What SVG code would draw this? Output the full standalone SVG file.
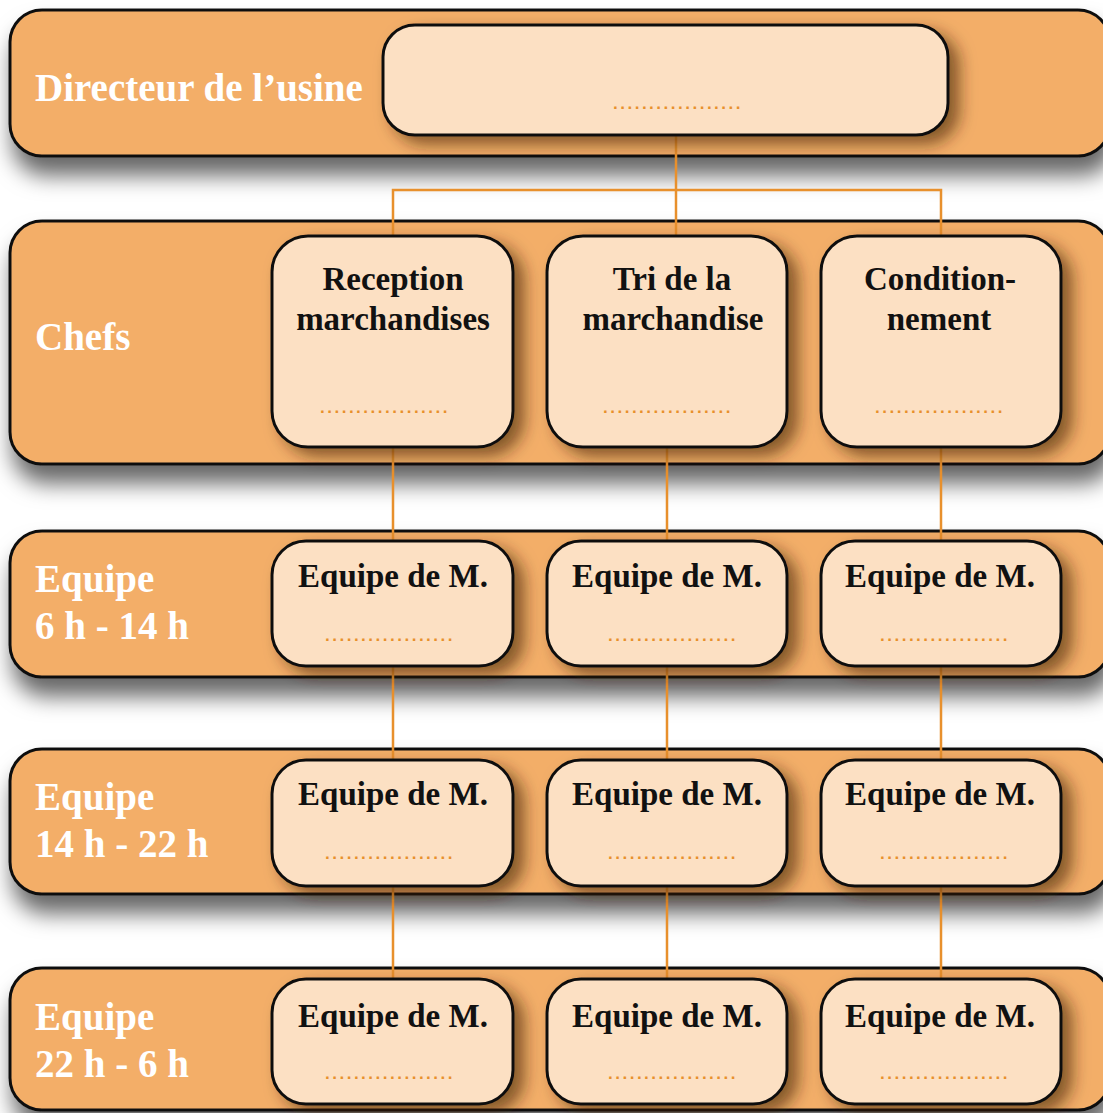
<svg xmlns="http://www.w3.org/2000/svg" width="1103" height="1113" viewBox="0 0 1103 1113">
<defs>
<filter id="bandShadow" x="-10%" y="-20%" width="130%" height="170%">
<feDropShadow dx="4" dy="18" stdDeviation="11" flood-color="#000" flood-opacity="0.6"/>
</filter>
<filter id="boxShadow" x="-10%" y="-15%" width="130%" height="140%">
<feDropShadow dx="10" dy="8" stdDeviation="8" flood-color="#3a2000" flood-opacity="0.6"/>
</filter>
</defs>
<style>
.band{fill:#F3AE68;stroke:#111;stroke-width:3}
.box{fill:#FCE0C3;stroke:#111;stroke-width:3}
.lbl{font-family:"Liberation Serif","Times New Roman",serif;font-weight:bold;font-size:39px;fill:#FFFFFF}
.txt{font-family:"Liberation Serif","Times New Roman",serif;font-weight:bold;font-size:33px;fill:#111;text-anchor:middle}
.dots{font-family:"Liberation Sans",Arial,sans-serif;font-weight:bold;font-size:17px;fill:#E8902C;text-anchor:middle;letter-spacing:2.5px}
.con{stroke:#E8902C;stroke-width:2.5;fill:none}
</style>
<rect width="1103" height="1113" fill="#FFFFFF"/>

<g id="bands">
<rect class="band" x="10" y="10" width="1100" height="146" rx="32" filter="url(#bandShadow)"/>
<rect class="band" x="10" y="221" width="1100" height="243" rx="32" filter="url(#bandShadow)"/>
<rect class="band" x="10" y="531" width="1100" height="146" rx="32" filter="url(#bandShadow)"/>
<rect class="band" x="10" y="749" width="1100" height="145" rx="32" filter="url(#bandShadow)"/>
<rect class="band" x="10" y="968" width="1100" height="142" rx="32" filter="url(#bandShadow)"/>
</g>

<g id="connectors">
<path class="con" d="M676 135 V236"/>
<path class="con" d="M393 236 V190 H941 V236"/>
<path class="con" d="M393 447 V541 M667 447 V541 M941 447 V541"/>
<path class="con" d="M393 666 V760 M667 666 V760 M941 666 V760"/>
<path class="con" d="M393 886 V979 M667 886 V979 M941 886 V979"/>
</g>

<g id="row-labels">
<text class="lbl" x="35" y="101">Directeur de l’usine</text>
<text class="lbl" x="35" y="350">Chefs</text>
<text class="lbl" x="35" y="592">Equipe</text>
<text class="lbl" x="35" y="639">6 h - 14 h</text>
<text class="lbl" x="35" y="810">Equipe</text>
<text class="lbl" x="35" y="857">14 h - 22 h</text>
<text class="lbl" x="35" y="1030">Equipe</text>
<text class="lbl" x="35" y="1077">22 h - 6 h</text>
</g>

<g id="director">
<rect class="box" x="383" y="25" width="565" height="110" rx="32" filter="url(#boxShadow)"/>
<text class="dots" x="678" y="109">..................</text>
</g>

<g id="chef-reception">
<rect class="box" x="272" y="236" width="241" height="211" rx="36" filter="url(#boxShadow)"/>
<text class="txt" x="393" y="290">Reception</text>
<text class="txt" x="393" y="330">marchandises</text>
<text class="dots" x="385" y="413">..................</text>
</g>
<g id="chef-tri">
<rect class="box" x="547" y="236" width="240" height="211" rx="36" filter="url(#boxShadow)"/>
<text class="txt" x="672" y="290">Tri de la</text>
<text class="txt" x="673" y="330">marchandise</text>
<text class="dots" x="668" y="413">..................</text>
</g>
<g id="chef-conditionnement">
<rect class="box" x="821" y="236" width="240" height="211" rx="36" filter="url(#boxShadow)"/>
<text class="txt" x="940" y="290">Condition-</text>
<text class="txt" x="939" y="330">nement</text>
<text class="dots" x="940" y="413">..................</text>
</g>

<g id="team1-reception">
<rect class="box" x="272" y="541" width="241" height="125" rx="34" filter="url(#boxShadow)"/>
<text class="txt" x="393" y="587">Equipe de M.</text>
<text class="dots" x="390" y="641">..................</text>
</g>
<g id="team1-tri">
<rect class="box" x="547" y="541" width="240" height="125" rx="34" filter="url(#boxShadow)"/>
<text class="txt" x="667" y="587">Equipe de M.</text>
<text class="dots" x="673" y="641">..................</text>
</g>
<g id="team1-cond">
<rect class="box" x="821" y="541" width="240" height="125" rx="34" filter="url(#boxShadow)"/>
<text class="txt" x="940" y="587">Equipe de M.</text>
<text class="dots" x="945" y="641">..................</text>
</g>

<g id="team2-reception">
<rect class="box" x="272" y="760" width="241" height="126" rx="34" filter="url(#boxShadow)"/>
<text class="txt" x="393" y="805">Equipe de M.</text>
<text class="dots" x="390" y="859">..................</text>
</g>
<g id="team2-tri">
<rect class="box" x="547" y="760" width="240" height="126" rx="34" filter="url(#boxShadow)"/>
<text class="txt" x="667" y="805">Equipe de M.</text>
<text class="dots" x="673" y="859">..................</text>
</g>
<g id="team2-cond">
<rect class="box" x="821" y="760" width="240" height="126" rx="34" filter="url(#boxShadow)"/>
<text class="txt" x="940" y="805">Equipe de M.</text>
<text class="dots" x="945" y="859">..................</text>
</g>

<g id="team3-reception">
<rect class="box" x="272" y="979" width="241" height="125" rx="34" filter="url(#boxShadow)"/>
<text class="txt" x="393" y="1027">Equipe de M.</text>
<text class="dots" x="390" y="1079">..................</text>
</g>
<g id="team3-tri">
<rect class="box" x="547" y="979" width="240" height="125" rx="34" filter="url(#boxShadow)"/>
<text class="txt" x="667" y="1027">Equipe de M.</text>
<text class="dots" x="673" y="1079">..................</text>
</g>
<g id="team3-cond">
<rect class="box" x="821" y="979" width="240" height="125" rx="34" filter="url(#boxShadow)"/>
<text class="txt" x="940" y="1027">Equipe de M.</text>
<text class="dots" x="945" y="1079">..................</text>
</g>
</svg>
